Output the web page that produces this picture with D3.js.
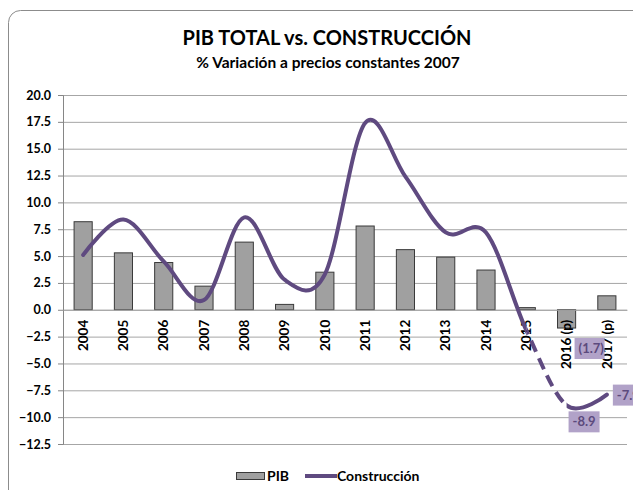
<!DOCTYPE html>
<html lang="es">
<head>
  <meta charset="UTF-8">
  <title>PIB TOTAL vs. CONSTRUCCIÓN</title>
  <script src="https://d3js.org/d3.v7.min.js"></script>
  <style>
    body { margin: 0; background: #fff; }
    svg text { font-family: Lato, "Open Sans", sans-serif; font-weight: bold; fill: #000; }
    .grid line { stroke: #a6a6a6; }
    .grid path { display: none; }
  </style>
</head>
<body>
  <div id="chart"></div>
  <script>
    // datos
    const years = ["2004", "2005", "2006", "2007", "2008", "2009", "2010", "2011", "2012", "2013", "2014", "2015", "2016 (p)", "2017 (p)"];
    const pib = [8.2, 5.3, 4.4, 2.2, 6.3, 0.5, 3.5, 7.8, 5.6, 4.9, 3.7, 0.2, -1.7, 1.3];
    const construccion = [5.1, 8.4, 4.5, 0.9, 8.6, 2.8, 3.3, 17.4, 12.4, 7.2, 7.2, -1.9, -8.9, -7.9];
    const yTicks = [20, 17.5, 15, 12.5, 10, 7.5, 5, 2.5, 0, -2.5, -5, -7.5, -10, -12.5];

    const W = 633, H = 490;
    const plot = { left: 63, right: 627, top: 95, bottom: 444 };
    const purple = "#5f4a80";

    const svg = d3.select("#chart").append("svg")
      .attr("width", W).attr("height", H);

    // marco exterior
    svg.append("rect")
      .attr("x", 8.5).attr("y", 10.5)
      .attr("width", 660).attr("height", 520)
      .attr("rx", 12).attr("ry", 12)
      .attr("fill", "#fff").attr("stroke", "#8c8c8c");

    // titulo
    svg.append("text").attr("x", 327).attr("y", 45)
      .attr("text-anchor", "middle").style("font-size", "20px")
      .text("PIB TOTAL vs. CONSTRUCCIÓN");
    svg.append("text").attr("x", 328).attr("y", 68)
      .attr("text-anchor", "middle").style("font-size", "15.5px")
      .text("% Variación a precios constantes 2007");

    const x = d3.scaleBand()
      .domain(years)
      .range([plot.left, plot.right])
      .paddingInner(0.55)
      .paddingOuter(0.275);

    const y = d3.scaleLinear()
      .domain([-12.5, 20])
      .range([plot.bottom, plot.top]);

    const cx = d => x(d) + x.bandwidth() / 2;

    // lineas de cuadricula
    svg.append("g")
      .attr("class", "grid")
      .attr("transform", `translate(${plot.left},0)`)
      .call(d3.axisLeft(y).tickValues(yTicks).tickSize(-(plot.right - plot.left)).tickFormat(""));

    // eje Y
    const yAxis = svg.append("g")
      .attr("transform", `translate(${plot.left},0)`)
      .call(d3.axisLeft(y).tickValues(yTicks).tickSize(5).tickPadding(7).tickFormat(d3.format(".1f")));
    yAxis.select(".domain").attr("stroke", "#868686");
    yAxis.selectAll(".tick line").attr("stroke", "#868686");
    yAxis.selectAll("text").style("font-size", "12.5px");

    // barras PIB
    svg.append("g").selectAll("rect")
      .data(years)
      .join("rect")
      .attr("x", d => x(d))
      .attr("width", x.bandwidth())
      .attr("y", (d, i) => y(Math.max(0, pib[i])))
      .attr("height", (d, i) => Math.abs(y(pib[i]) - y(0)))
      .attr("fill", "#a0a0a0")
      .attr("stroke", "#3a3a3a")
      .attr("stroke-width", 1);

    // eje X (en cero)
    const xAxis = svg.append("g")
      .attr("transform", `translate(0,${y(0)})`)
      .call(d3.axisBottom(x).tickSize(0).tickPadding(0));
    xAxis.select(".domain").attr("stroke", "#a6a6a6");
    xAxis.selectAll("text")
      .attr("transform", "rotate(-90)")
      .attr("text-anchor", "end")
      .attr("x", -10)
      .attr("y", 0)
      .attr("dy", "0.35em")
      .style("font-size", "13.5px");

    // linea de construccion (suavizada)
    const pts = years.map((d, i) => [cx(d), y(construccion[i])]);
    const lineGen = d3.line().curve(d3.curveCardinal.tension(0));
    const pathD = lineGen(pts);

    const defs = svg.append("defs");
    const i15 = years.indexOf("2015"), i16 = years.indexOf("2016 (p)");
    const clips = [
      { id: "c1", x0: 0, x1: cx(years[i15]), dash: null },
      { id: "c2", x0: cx(years[i15]), x1: cx(years[i16]), dash: "12,7" },
      { id: "c3", x0: cx(years[i16]), x1: W, dash: null }
    ];
    clips.forEach(c => {
      defs.append("clipPath").attr("id", c.id)
        .append("rect").attr("x", c.x0).attr("y", 0)
        .attr("width", c.x1 - c.x0).attr("height", H);
      svg.append("path")
        .attr("d", pathD)
        .attr("clip-path", `url(#${c.id})`)
        .attr("fill", "none")
        .attr("stroke", purple)
        .attr("stroke-width", 4)
        .attr("stroke-linecap", c.dash ? "butt" : "round")
        .attr("stroke-dasharray", c.dash);
    });

    // etiquetas de datos
    const labels = [
      { x: cx(years[12]) + 8, y: y(pib[12]) + 10, text: `(${Math.abs(pib[12]).toFixed(1)})`, w: 30 },
      { x: cx(years[12]) + 2, y: y(construccion[12]) + 6, text: construccion[12].toFixed(1), w: 31 },
      { x: cx(years[13]) + 6, y: y(construccion[13]) - 10, text: construccion[13].toFixed(1), w: 31 }
    ];
    const lab = svg.append("g").selectAll("g").data(labels).join("g")
      .attr("transform", d => `translate(${d.x},${d.y})`);
    lab.append("rect")
      .attr("width", d => d.w).attr("height", 21)
      .attr("fill", "#b1a2c8");
    lab.append("text")
      .attr("x", 4).attr("y", 15)
      .style("font-size", "13px")
      .style("fill", "#5c4a7d")
      .text(d => d.text);

    // leyenda
    const leg = svg.append("g");
    leg.append("rect").attr("x", 236.5).attr("y", 472.5).attr("width", 28).attr("height", 7)
      .attr("fill", "#a0a0a0").attr("stroke", "#3a3a3a");
    leg.append("text").attr("x", 267).attr("y", 481).style("font-size", "14px").text("PIB");
    leg.append("line").attr("x1", 305).attr("x2", 337).attr("y1", 476).attr("y2", 476)
      .attr("stroke", purple).attr("stroke-width", 4);
    leg.append("text").attr("x", 337).attr("y", 481).style("font-size", "14px").text("Construcción");
  </script>
</body>
</html>
